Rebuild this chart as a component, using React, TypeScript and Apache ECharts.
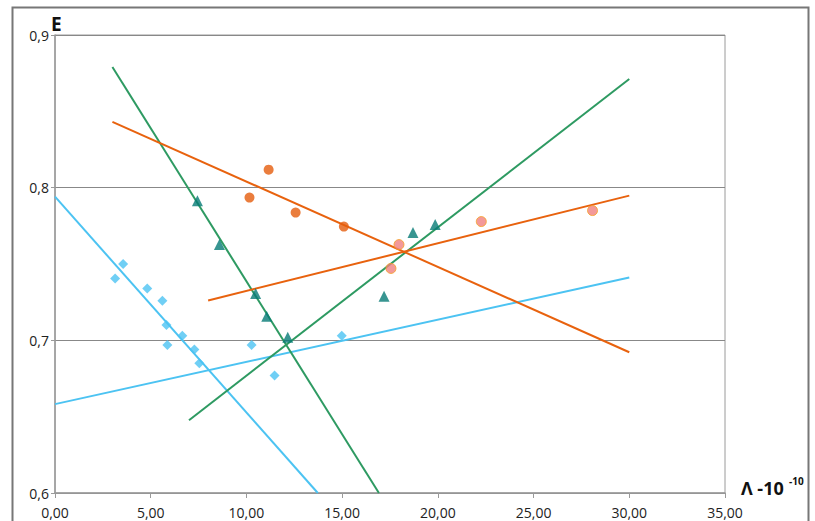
import React, { useEffect, useRef } from "react";
import * as echarts from "echarts";

const xTicks = [0, 5, 10, 15, 20, 25, 30, 35];
const yTicks = [0.6, 0.7, 0.8, 0.9];

const blueDiamonds: [number, number][] = [
  [3.14, 0.7405], [3.56, 0.750], [4.82, 0.734], [5.61, 0.726], [5.82, 0.710],
  [5.87, 0.697], [6.65, 0.703], [7.28, 0.694], [7.54, 0.685], [10.27, 0.697],
  [11.47, 0.677], [14.98, 0.703],
];
const tealTriangles: [number, number][] = [
  [7.44, 0.7915], [8.59, 0.7627], [10.48, 0.7307], [11.06, 0.7157], [12.16, 0.702],
  [17.19, 0.7288], [18.70, 0.7706], [19.86, 0.7758],
];
const orangeDots: [number, number][] = [
  [10.16, 0.7935], [11.16, 0.8118], [12.57, 0.7837], [15.09, 0.7745],
];
const pinkDots: [number, number][] = [
  [17.97, 0.7627], [17.55, 0.7471], [22.27, 0.7778], [28.08, 0.785],
];

const greenDown: [number, number][] = [[3.0, 0.879], [16.92, 0.6]];
const greenUp: [number, number][] = [[7.0, 0.6477], [30.0, 0.8712]];
const orangeDown: [number, number][] = [[3.0, 0.8431], [30.0, 0.6922]];
const orangeUp: [number, number][] = [[8.0, 0.7261], [30.0, 0.7948]];
const blueDown: [number, number][] = [[0.0, 0.7941], [13.73, 0.6]];
const blueUp: [number, number][] = [[0.0, 0.6582], [30.0, 0.7412]];

const FONT = '"Open Sans", "DejaVu Sans", sans-serif';

export default function App() {
  const ref = useRef<HTMLDivElement>(null);
  useEffect(() => {
    if (!ref.current) return;
    const chart = echarts.init(ref.current, undefined, { renderer: "svg" });
    const lineSeries = (data: [number, number][], color: string) => ({
      type: "line",
      data,
      symbol: "none",
      lineStyle: { color, width: 2 },
      z: 2,
    });
    chart.setOption({
      animation: false,
      backgroundColor: "#fff",
      grid: {
        left: 55, right: 90, top: 35, bottom: 28,
        show: true, borderColor: "#9a9a9a", borderWidth: 1,
      },
      xAxis: {
        type: "value",
        min: xTicks[0], max: xTicks[xTicks.length - 1], interval: 5,
        axisLine: { show: true, lineStyle: { color: "#9a9a9a", width: 1.5 } },
        axisTick: { show: true, length: 5, lineStyle: { color: "#9a9a9a" } },
        splitLine: { show: false },
        axisLabel: {
          color: "#222", fontSize: 14, fontFamily: FONT, margin: 12,
          formatter: (v: number) => v.toFixed(2).replace(".", ","),
        },
      },
      yAxis: {
        type: "value",
        min: yTicks[0], max: yTicks[yTicks.length - 1], interval: 0.1,
        axisLine: { show: true, lineStyle: { color: "#9a9a9a", width: 1.5 } },
        axisTick: { show: true, length: 4, lineStyle: { color: "#9a9a9a" } },
        splitLine: { show: true, lineStyle: { color: "#888", width: 1 } },
        axisLabel: {
          color: "#222", fontSize: 14, fontFamily: FONT, margin: 6,
          formatter: (v: number) => v.toFixed(1).replace(".", ","),
        },
      },
      graphic: [
        {
          type: "rect", left: 10, top: 5, silent: true, z: -10,
          shape: { width: 796, height: 540 },
          style: { fill: "none", stroke: "#777", lineWidth: 2 },
        },
        {
          type: "text", x: 51, y: 24,
          style: { text: "E", font: `bold 19px ${FONT}`, fill: "#111", verticalAlign: "middle" },
        },
        {
          type: "text", x: 741, y: 488,
          style: { text: "Λ -10", font: `bold 18px ${FONT}`, fill: "#111", verticalAlign: "middle" },
        },
        {
          type: "text", x: 789, y: 481,
          style: { text: "-10", font: `bold 10px ${FONT}`, fill: "#111", verticalAlign: "middle" },
        },
      ],
      series: [
        lineSeries(blueDown, "#4cc3f2"),
        lineSeries(blueUp, "#4cc3f2"),
        lineSeries(greenDown, "#2e9a62"),
        lineSeries(greenUp, "#2e9a62"),
        lineSeries(orangeDown, "#e8620e"),
        lineSeries(orangeUp, "#e8620e"),
        {
          type: "scatter", data: blueDiamonds, symbol: "diamond", symbolSize: 10,
          itemStyle: { color: "#4cc3f2" }, z: 3,
        },
        {
          type: "scatter", data: tealTriangles, symbol: "triangle", symbolSize: 11,
          itemStyle: { color: "#067a76" }, z: 3,
        },
        {
          type: "scatter", data: orangeDots, symbol: "circle", symbolSize: 10,
          itemStyle: { color: "#e55c0c" }, z: 3,
        },
        {
          type: "scatter", data: pinkDots, symbol: "circle", symbolSize: 10,
          itemStyle: { color: "#f08080", borderColor: "#f5a023", borderWidth: 1 }, z: 3,
        },
      ],
    });
    return () => chart.dispose();
  }, []);
  return (
    <div
      ref={ref}
      style={{ position: "fixed", left: 0, top: 0, width: 815, height: 521 }}
    />
  );
}
